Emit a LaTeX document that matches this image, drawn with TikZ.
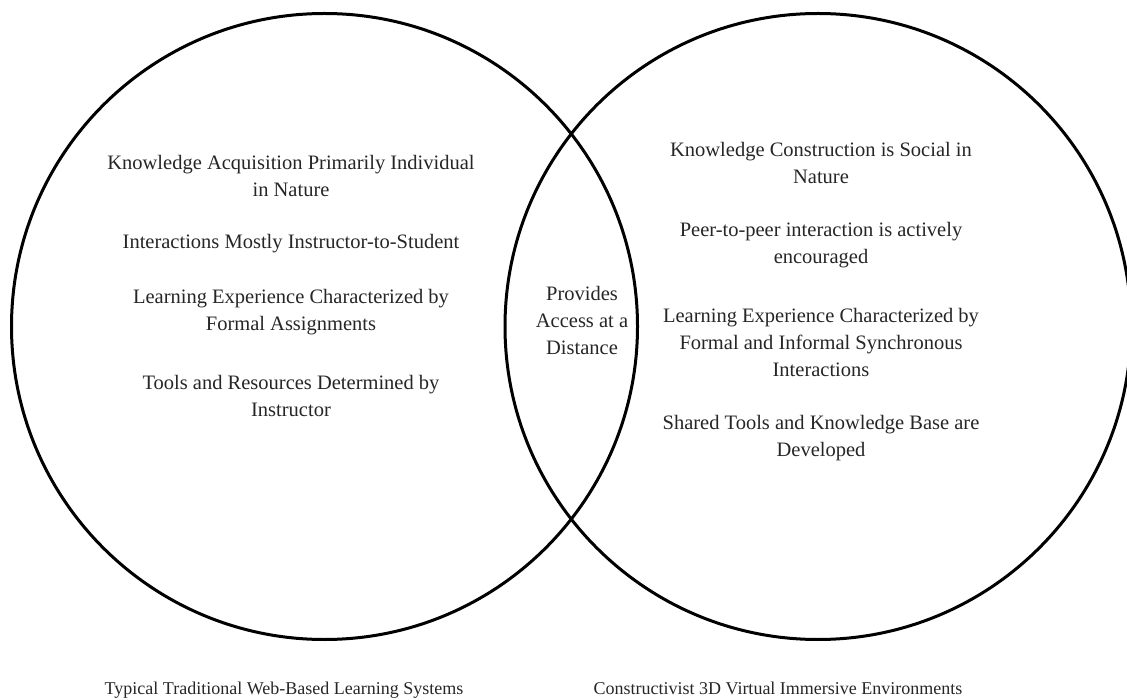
\documentclass[tikz,border=0pt]{standalone}
\usepackage{fontspec}
\setmainfont{Liberation Serif}
\begin{document}
\begin{tikzpicture}[x=1pt,y=-1pt,
  venn/.style={draw=black,line width=3pt,circle,minimum size=626pt,inner sep=0pt},
  txt/.style={align=center,text=black!85,font=\fontsize{20.5}{27}\selectfont,inner sep=0pt},
  caption/.style={text=black!85,font=\fontsize{18}{27}\selectfont,inner sep=0pt,anchor=base}]
\useasboundingbox (0,0) rectangle (1127,700);
% the two overlapping sets
\node[venn] (leftset)  at (324.5,326.5) {};
\node[venn] (rightset) at (818,326.5) {};
% left-only items
\node[txt] (l1) at (291,175.5) {Knowledge Acquisition Primarily Individual\\in Nature};
\node[txt] (l2) at (291,244) {Interactions Mostly Instructor-to-Student};
\node[txt] (l3) at (291,312.5) {Learning Experience Characterized by\\Formal Assignments};
\node[txt] (l4) at (291,395.5) {Tools and Resources Determined by\\Instructor};
% shared item
\node[txt] (mid) at (582,320.5) {Provides\\Access at a\\Distance};
% right-only items
\node[txt] (r1) at (821,162.5) {Knowledge Construction is Social in\\Nature};
\node[txt] (r2) at (821,245.5) {Peer-to-peer interaction is actively\\encouraged};
\node[txt] (r3) at (821,342) {Learning Experience Characterized by\\Formal and Informal Synchronous\\Interactions};
\node[txt] (r4) at (821,438.5) {Shared Tools and Knowledge Base are\\Developed};
% set captions
\node[caption] (lcap) at (284,694) {Typical Traditional Web-Based Learning Systems};
\node[caption] (rcap) at (778,694) {Constructivist 3D Virtual Immersive Environments};
\end{tikzpicture}
\end{document}
